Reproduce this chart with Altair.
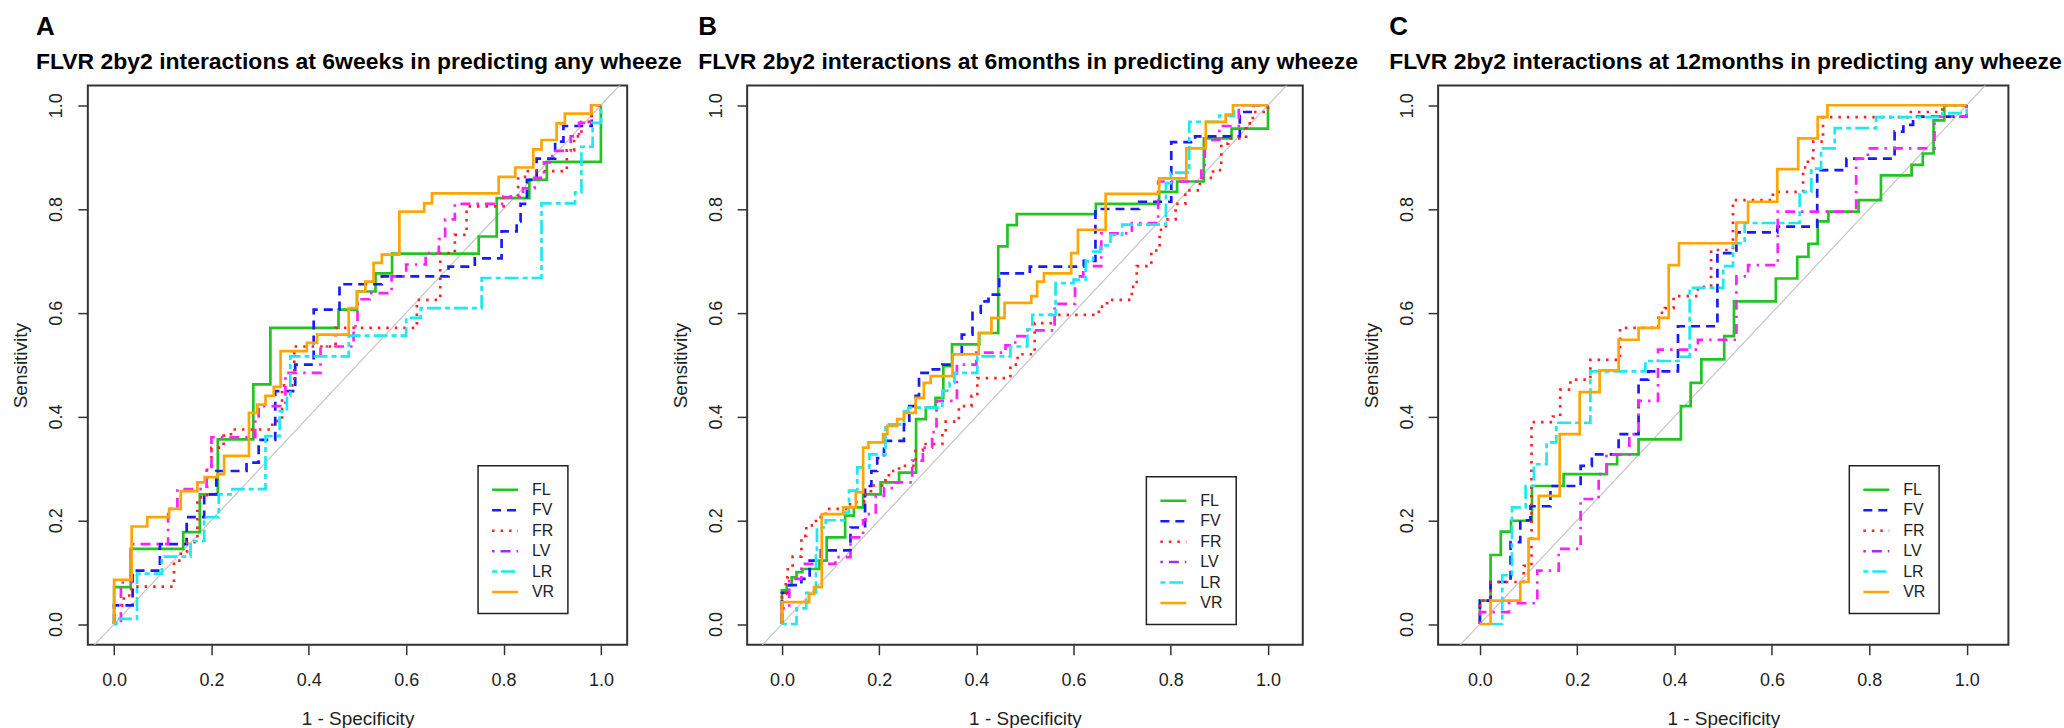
import altair as alt
import pandas as pd

# ---------------- data ----------------
SERIES = ["FL", "FV", "FR", "LV", "LR", "VR"]
LEGEND_COLORS = ["#22c422", "#1a1aff", "#ff2020", "#a030f0", "#1ee8f0", "#ffa500"]
LV_CURVE_COLOR = "#ff20ff"
DASHES = [[1, 0], [9, 6], [2.5, 6], [2.5, 6, 10, 6], [5, 4, 14, 4], [1, 0]]
TICKS = [0.0, 0.2, 0.4, 0.6, 0.8, 1.0]
DIAGONAL = [-0.2, 1.2]
LETTERS = ["A", "B", "C"]
TITLES = [
    "FLVR 2by2 interactions at 6weeks in predicting any wheeze",
    "FLVR 2by2 interactions at 6months in predicting any wheeze",
    "FLVR 2by2 interactions at 12months in predicting any wheeze",
]

# (1 - specificity, sensitivity) corner points of each ROC step curve
A_FL = [(0, 0), (0, 0.071), (0.034, 0.145), (0.142, 0.177), (0.176, 0.25), (0.213, 0.356), (0.286, 0.462),
        (0.321, 0.571), (0.461, 0.606), (0.499, 0.641), (0.537, 0.676), (0.571, 0.714), (0.749, 0.747),
        (0.786, 0.821), (0.853, 0.856), (0.889, 0.891), (1.0, 1.0)]
A_FV = [(0, 0), (0, 0.036), (0.038, 0.103), (0.094, 0.154), (0.149, 0.206), (0.185, 0.25), (0.21, 0.295),
        (0.272, 0.311), (0.297, 0.355), (0.331, 0.449), (0.372, 0.50), (0.41, 0.606), (0.463, 0.655),
        (0.55, 0.67), (0.687, 0.689), (0.741, 0.705), (0.796, 0.757), (0.827, 0.776), (0.835, 0.81),
        (0.848, 0.856), (0.868, 0.897), (0.906, 0.93), (0.923, 0.96), (0.981, 1.0), (1.0, 1.0)]
A_FR = [(0, 0), (0, 0.036), (0.02, 0.055), (0.035, 0.072), (0.123, 0.122), (0.137, 0.14), (0.15, 0.158),
        (0.171, 0.244), (0.191, 0.3), (0.2, 0.34), (0.225, 0.363), (0.24, 0.375), (0.325, 0.391),
        (0.345, 0.46), (0.37, 0.535), (0.455, 0.571), (0.622, 0.625), (0.67, 0.715), (0.70, 0.75),
        (0.724, 0.805), (0.80, 0.824), (0.83, 0.862), (0.85, 0.873), (0.93, 0.913), (0.945, 0.94),
        (0.96, 0.968), (0.981, 1.0), (1.0, 1.0)]
A_LV = [(0, 0), (0.014, 0.08), (0.035, 0.154), (0.111, 0.222), (0.13, 0.26), (0.19, 0.30), (0.2, 0.36),
        (0.29, 0.40), (0.297, 0.42), (0.352, 0.484), (0.424, 0.535), (0.492, 0.574), (0.50, 0.626),
        (0.525, 0.638), (0.57, 0.67), (0.60, 0.693), (0.64, 0.715), (0.667, 0.742), (0.68, 0.78),
        (0.70, 0.81), (0.80, 0.823), (0.84, 0.84), (0.864, 0.86), (0.883, 0.89), (0.90, 0.912),
        (0.938, 0.94), (0.955, 0.966), (0.98, 1.0), (1.0, 1.0)]
A_LR = [(0, 0), (0.005, 0.01), (0.047, 0.097), (0.098, 0.13), (0.157, 0.16), (0.185, 0.206), (0.215, 0.25),
        (0.243, 0.26), (0.311, 0.362), (0.34, 0.41), (0.355, 0.44), (0.362, 0.516), (0.482, 0.556),
        (0.60, 0.59), (0.63, 0.609), (0.755, 0.667), (0.878, 0.811), (0.947, 0.832), (0.96, 0.92),
        (0.983, 0.966), (1.0, 1.0)]
A_VR = [(0, 0), (0, 0.085), (0.036, 0.188), (0.068, 0.206), (0.113, 0.222), (0.137, 0.256), (0.171, 0.273),
        (0.186, 0.283), (0.212, 0.289), (0.226, 0.324), (0.277, 0.407), (0.294, 0.423), (0.311, 0.44),
        (0.328, 0.457), (0.342, 0.526), (0.396, 0.542), (0.417, 0.558), (0.482, 0.609), (0.499, 0.641),
        (0.516, 0.66), (0.533, 0.696), (0.55, 0.712), (0.586, 0.795), (0.637, 0.811), (0.653, 0.83),
        (0.79, 0.862), (0.824, 0.88), (0.861, 0.915), (0.878, 0.933), (0.909, 0.965), (0.926, 0.984),
        (0.981, 1.0), (1.0, 1.0)]

B_FL = [(0, 0), (0, 0.065), (0.01, 0.075), (0.02, 0.09), (0.03, 0.10), (0.042, 0.106), (0.077, 0.122),
        (0.092, 0.167), (0.13, 0.209), (0.148, 0.225), (0.167, 0.25), (0.203, 0.273), (0.241, 0.292),
        (0.276, 0.395), (0.296, 0.417), (0.316, 0.436), (0.332, 0.497), (0.35, 0.539), (0.406, 0.561),
        (0.445, 0.728), (0.464, 0.769), (0.483, 0.79), (0.646, 0.81), (0.776, 0.833), (0.813, 0.853),
        (0.868, 0.936), (0.925, 0.955), (1.0, 1.0)]
B_FV = [(0, 0), (0, 0.06), (0.015, 0.075), (0.04, 0.087), (0.057, 0.122), (0.08, 0.142), (0.141, 0.186),
        (0.171, 0.266), (0.184, 0.295), (0.196, 0.32), (0.21, 0.353), (0.251, 0.385), (0.262, 0.42),
        (0.275, 0.44), (0.282, 0.484), (0.30, 0.491), (0.33, 0.50), (0.351, 0.52), (0.37, 0.558),
        (0.392, 0.60), (0.409, 0.622), (0.425, 0.635), (0.447, 0.676), (0.51, 0.689), (0.621, 0.70),
        (0.645, 0.80), (0.735, 0.814), (0.801, 0.929), (0.85, 0.94), (0.942, 0.987), (0.97, 1.0), (1.0, 1.0)]
B_FR = [(0, 0), (0, 0.058), (0.008, 0.09), (0.012, 0.11), (0.022, 0.13), (0.04, 0.17), (0.05, 0.19),
        (0.07, 0.206), (0.09, 0.222), (0.14, 0.235), (0.169, 0.25), (0.183, 0.267), (0.213, 0.28),
        (0.22, 0.295), (0.241, 0.305), (0.275, 0.334), (0.29, 0.347), (0.33, 0.37), (0.337, 0.39),
        (0.364, 0.42), (0.39, 0.44), (0.402, 0.474), (0.47, 0.50), (0.485, 0.52), (0.52, 0.58),
        (0.553, 0.596), (0.652, 0.612), (0.669, 0.625), (0.72, 0.65), (0.73, 0.69), (0.76, 0.72),
        (0.777, 0.76), (0.79, 0.78), (0.81, 0.81), (0.83, 0.836), (0.86, 0.86), (0.887, 0.875),
        (0.904, 0.926), (0.918, 0.936), (0.955, 0.965), (0.969, 0.987), (1.0, 1.0)]
B_LV = [(0, 0), (0, 0.03), (0.015, 0.087), (0.04, 0.116), (0.11, 0.129), (0.141, 0.167), (0.167, 0.2),
        (0.172, 0.212), (0.193, 0.247), (0.21, 0.262), (0.23, 0.273), (0.268, 0.315), (0.29, 0.34),
        (0.309, 0.37), (0.318, 0.43), (0.36, 0.50), (0.40, 0.523), (0.46, 0.537), (0.48, 0.555),
        (0.50, 0.566), (0.561, 0.617), (0.603, 0.67), (0.62, 0.69), (0.657, 0.753), (0.72, 0.773),
        (0.774, 0.853), (0.863, 0.885), (0.87, 0.933), (0.90, 0.96), (0.94, 1.0), (1.0, 1.0)]
B_LR = [(0, 0), (0.03, 0.03), (0.05, 0.06), (0.07, 0.14), (0.072, 0.186), (0.09, 0.2), (0.128, 0.215),
        (0.138, 0.257), (0.155, 0.302), (0.18, 0.327), (0.213, 0.385), (0.251, 0.41), (0.26, 0.417),
        (0.33, 0.45), (0.345, 0.465), (0.355, 0.484), (0.402, 0.516), (0.47, 0.535), (0.505, 0.568),
        (0.515, 0.596), (0.563, 0.657), (0.60, 0.664), (0.625, 0.699), (0.64, 0.718), (0.655, 0.73),
        (0.676, 0.75), (0.70, 0.77), (0.79, 0.85), (0.80, 0.87), (0.838, 0.968), (0.90, 0.98),
        (0.93, 1.0), (1.0, 1.0)]
B_VR = [(0, 0), (0, 0.042), (0.056, 0.058), (0.066, 0.071), (0.082, 0.212), (0.126, 0.225), (0.152, 0.254),
        (0.167, 0.34), (0.178, 0.35), (0.208, 0.366), (0.217, 0.382), (0.237, 0.395), (0.251, 0.407),
        (0.275, 0.436), (0.292, 0.465), (0.306, 0.478), (0.351, 0.52), (0.405, 0.561), (0.431, 0.59),
        (0.458, 0.619), (0.513, 0.632), (0.525, 0.66), (0.539, 0.676), (0.595, 0.715), (0.609, 0.76),
        (0.666, 0.829), (0.776, 0.859), (0.832, 0.917), (0.872, 0.968), (0.913, 0.982), (0.928, 1.0),
        (1.0, 1.0)]

C_FL = [(0, 0), (0, 0.045), (0.022, 0.133), (0.043, 0.178), (0.064, 0.199), (0.107, 0.266), (0.172, 0.289),
        (0.261, 0.308), (0.282, 0.327), (0.326, 0.356), (0.413, 0.42), (0.433, 0.465), (0.455, 0.51),
        (0.502, 0.555), (0.522, 0.622), (0.608, 0.666), (0.652, 0.708), (0.675, 0.733), (0.694, 0.776),
        (0.716, 0.795), (0.778, 0.817), (0.824, 0.865), (0.887, 0.885), (0.91, 0.907), (0.932, 0.971),
        (0.954, 1.0), (1.0, 1.0)]
C_FV = [(0, 0), (0, 0.045), (0.022, 0.081), (0.063, 0.158), (0.083, 0.2), (0.104, 0.227), (0.145, 0.266),
        (0.207, 0.305), (0.23, 0.327), (0.285, 0.366), (0.326, 0.471), (0.346, 0.487), (0.407, 0.574),
        (0.488, 0.715), (0.527, 0.755), (0.611, 0.766), (0.693, 0.875), (0.753, 0.897), (0.852, 0.949),
        (0.87, 0.962), (0.89, 0.978), (1.0, 1.0)]
C_FR = [(0, 0), (0, 0.045), (0.022, 0.081), (0.09, 0.112), (0.106, 0.389), (0.15, 0.40), (0.165, 0.452),
        (0.186, 0.471), (0.227, 0.509), (0.288, 0.571), (0.367, 0.60), (0.38, 0.609), (0.398, 0.632),
        (0.448, 0.65), (0.475, 0.721), (0.52, 0.817), (0.602, 0.833), (0.664, 0.88), (0.674, 0.898),
        (0.685, 0.93), (0.705, 0.977), (0.879, 0.987), (0.95, 1.0), (1.0, 1.0)]
C_LV = [(0, 0), (0, 0.023), (0.06, 0.04), (0.118, 0.103), (0.162, 0.145), (0.207, 0.241), (0.244, 0.289),
        (0.26, 0.327), (0.307, 0.366), (0.326, 0.43), (0.366, 0.529), (0.448, 0.548), (0.527, 0.67),
        (0.551, 0.692), (0.612, 0.795), (0.773, 0.897), (0.797, 0.917), (0.934, 0.978), (1.0, 1.0)]
C_LR = [(0, 0), (0.046, 0.094), (0.066, 0.225), (0.094, 0.266), (0.111, 0.308), (0.137, 0.35),
        (0.157, 0.388), (0.227, 0.487), (0.34, 0.507), (0.408, 0.515), (0.431, 0.648), (0.50, 0.69),
        (0.52, 0.734), (0.544, 0.773), (0.657, 0.833), (0.681, 0.878), (0.701, 0.917), (0.729, 0.956),
        (0.814, 0.977), (0.95, 0.985), (1.0, 1.0)]
C_VR = [(0, 0), (0.022, 0.045), (0.083, 0.081), (0.10, 0.164), (0.121, 0.247), (0.164, 0.366),
        (0.205, 0.447), (0.246, 0.489), (0.285, 0.548), (0.326, 0.571), (0.368, 0.59), (0.388, 0.692),
        (0.409, 0.734), (0.527, 0.774), (0.551, 0.814), (0.611, 0.877), (0.654, 0.936), (0.694, 0.977),
        (0.714, 1.0), (1.0, 1.0)]

PANEL_CURVES = {
    "A": dict(zip(SERIES, [A_FL, A_FV, A_FR, A_LV, A_LR, A_VR])),
    "B": dict(zip(SERIES, [B_FL, B_FV, B_FR, B_LV, B_LR, B_VR])),
    "C": dict(zip(SERIES, [C_FL, C_FV, C_FR, C_LV, C_LR, C_VR])),
}

# ---------------- layout (not data) ----------------
PANEL_W = {"A": 540.4, "B": 556.7, "C": 571.4}
PANEL_H = 560.3
X_DOM = {"A": [-0.054, 1.054], "B": [-0.0716, 1.0716], "C": [-0.0858, 1.0858]}
Y_DOM = [-0.04, 1.038]
LEG_XY = {"A": (391, 381), "B": (400, 392), "C": (412, 381)}
TITLE_DX = {"A": -52, "B": -49, "C": -49}
FONT = "Liberation Sans"
LEG_SYMBOL = "M-1.026,0L1.655,0"

rows = []
for p, curves in PANEL_CURVES.items():
    for s, pts in curves.items():
        for i, (xv, yv) in enumerate(pts):
            rows.append({"panel": p, "series": s, "idx": i, "x": xv, "y": yv})
df = pd.DataFrame(rows)
diag_df = pd.DataFrame({"x": DIAGONAL, "y": DIAGONAL})


def make_panel(p, letter, title):
    xenc = alt.X("x:Q", scale=alt.Scale(domain=X_DOM[p], nice=False, zero=False),
                 axis=alt.Axis(values=TICKS, format=".1f", title="1 - Specificity",
                               labelFlush=False, labelOverlap=False, labelPadding=17, titlePadding=19.5))
    yenc = alt.Y("y:Q", scale=alt.Scale(domain=Y_DOM, nice=False, zero=False),
                 axis=alt.Axis(values=TICKS, format=".1f", title="Sensitivity", labelAngle=270,
                               labelFlush=False, labelOverlap=False, labelPadding=12, titlePadding=17))
    leg = alt.Legend(title=None, orient="none", legendX=LEG_XY[p][0], legendY=LEG_XY[p][1],
                     direction="vertical", symbolType=LEG_SYMBOL, symbolSize=376,
                     symbolStrokeWidth=2.5, labelFont=FONT, labelFontSize=16, labelColor="#222222",
                     labelOffset=19, padding=13, rowPadding=1.5, strokeColor="#222222",
                     fillColor="white", cornerRadius=0)
    diag = alt.Chart(diag_df).mark_line(color="#c6c6c6", strokeWidth=1.2, clip=True).encode(x=xenc, y=yenc)
    curves = alt.Chart(df[df.panel == p]).mark_line(
        interpolate="step-after", strokeWidth=2.7, clip=True
    ).encode(
        x="x:Q",
        y="y:Q",
        color=alt.condition(
            alt.datum.series == "LV",
            alt.value(LV_CURVE_COLOR),
            alt.Color("series:N", scale=alt.Scale(domain=SERIES, range=LEGEND_COLORS), legend=leg),
        ),
        strokeDash=alt.StrokeDash("series:N", scale=alt.Scale(domain=SERIES, range=DASHES), legend=leg),
        order="idx:Q",
    )
    return alt.layer(diag, curves).properties(
        width=PANEL_W[p],
        height=PANEL_H,
        title=alt.TitleParams(
            text=letter, subtitle=title, anchor="start", frame="group", dx=TITLE_DX[p], offset=12,
            font=FONT, fontSize=26, fontWeight="bold", color="black",
            subtitleFont=FONT, subtitleFontSize=23, subtitleFontWeight="bold", subtitleColor="black",
            subtitlePadding=11,
        ),
    )


pA = make_panel("A", LETTERS[0], TITLES[0])
pB = make_panel("B", LETTERS[1], TITLES[1])
pC = make_panel("C", LETTERS[2], TITLES[2])

inner = alt.hconcat(pB, pC, spacing=135.3, bounds="flush").resolve_scale(
    x="independent", y="independent", color="independent", strokeDash="independent"
).resolve_legend(color="independent", strokeDash="independent")

chart = alt.hconcat(pA, inner, spacing=119.6, bounds="flush").resolve_scale(
    x="independent", y="independent", color="independent", strokeDash="independent"
).resolve_legend(color="independent", strokeDash="independent").properties(
    padding={"left": 11, "top": 12, "right": 0, "bottom": 0},
    background="white",
).configure_view(
    stroke="#333333", strokeWidth=2
).configure_axis(
    grid=False, domain=False, tickColor="#333333", tickSize=10, tickWidth=1.5,
    labelFont=FONT, labelFontSize=18, labelColor="#222222",
    titleFont=FONT, titleFontSize=19, titleFontWeight="normal", titleColor="#222222",
).configure_legend(
    strokeWidth=1.5, labelFont=FONT, labelFontSize=16, labelColor="#222222",
    symbolStrokeWidth=2.5, padding=13, rowPadding=1.5, labelOffset=19,
)

chart.save("out.html", embed_options={"renderer": "svg", "actions": False})
